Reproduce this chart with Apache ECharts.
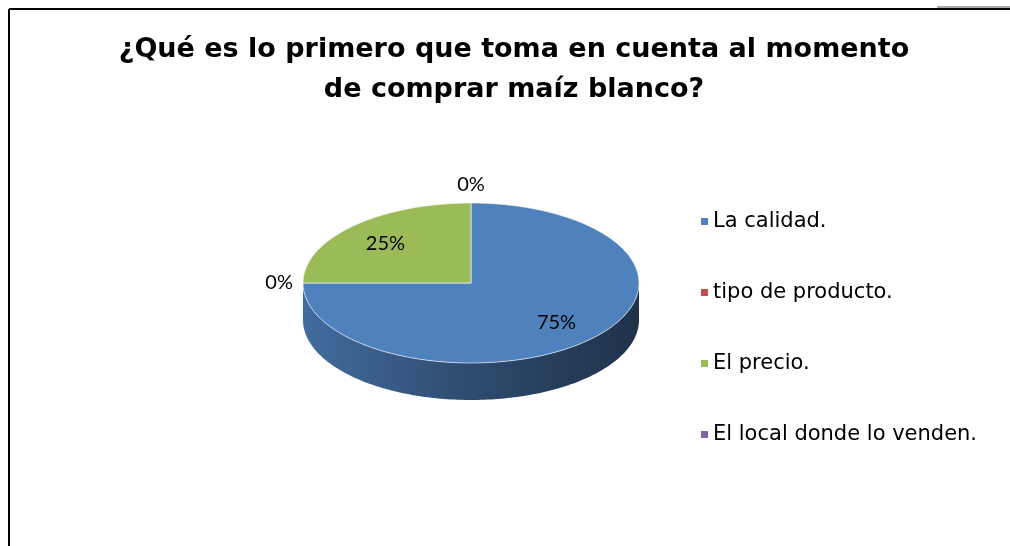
<!DOCTYPE html>
<html>
<head>
<meta charset="utf-8">
<script src="https://cdn.jsdelivr.net/npm/echarts@6/dist/echarts.min.js"></script>
<style>
  html, body { margin: 0; padding: 0; background: #fff; }
  #chart { width: 1010px; height: 546px; }
</style>
</head>
<body>
<div id="chart"></div>
<script>
const categories = ['La calidad.', 'tipo de producto.', 'El precio.', 'El local donde lo venden.'];
const percentages = [75, 0, 25, 0];
const sliceColors = ['#4f81bd', '#c0504d', '#9bbb59', '#8064a2'];

const chart = echarts.init(document.getElementById('chart'));
const total = percentages.reduce((a, b) => a + b, 0);

// 3D pie drawn as an ellipse (top face) plus its front wall
const cx = 471, cy = 283, rx = 168, ry = 80, depth = 37;

function pt (theta, dy) {
  // theta: clockwise from 12 o'clock
  return [cx + rx * Math.sin(theta), cy - ry * Math.cos(theta) + (dy || 0)];
}
function arc (a0, a1, dy) {
  const pts = [];
  const n = Math.max(2, Math.ceil(Math.abs(a1 - a0) / 0.02));
  for (let i = 0; i <= n; i++) pts.push(pt(a0 + (a1 - a0) * i / n, dy));
  return pts;
}
function shade (hex, f) {
  const n = parseInt(hex.slice(1), 16);
  const r = Math.round(((n >> 16) & 255) * f);
  const g = Math.round(((n >> 8) & 255) * f);
  const b = Math.round((n & 255) * f);
  return 'rgb(' + r + ',' + g + ',' + b + ')';
}

function renderSlice (params, api) {
  const i = params.dataIndex;
  let before = 0;
  for (let k = 0; k < i; k++) before += percentages[k];
  const v = api.value(0);
  const a0 = before / total * Math.PI * 2;
  const a1 = (before + v) / total * Math.PI * 2;
  const color = sliceColors[i];
  const children = [];
  if (v > 0) {
    const s0 = Math.max(a0, Math.PI / 2);
    const s1 = Math.min(a1, Math.PI * 1.5);
    if (s1 > s0) {
      children.push({
        type: 'polygon',
        shape: { points: arc(s0, s1, 0).concat(arc(s1, s0, depth)) },
        style: {
          fill: new echarts.graphic.LinearGradient(0, 0, 1, 0, [
            { offset: 0, color: shade(color, 0.84) },
            { offset: 0.5, color: shade(color, 0.58) },
            { offset: 1, color: shade(color, 0.39) }
          ])
        }
      });
    }
    children.push({
      type: 'polygon',
      shape: { points: [[cx, cy]].concat(arc(a0, a1, 0)) },
      style: { fill: color, stroke: 'rgba(255,255,255,0.6)', lineWidth: 1 }
    });
  }
  // data label
  const mid = (a0 + a1) / 2;
  const s = Math.sin(mid), c = Math.cos(mid);
  let lx, ly, align = 'center', valign = 'middle';
  if (v / total >= 0.1) {
    lx = cx + rx * 0.72 * s;
    ly = cy - ry * 0.7 * c;
  } else {
    const p = pt(mid, 0);
    lx = p[0] + 10 * s;
    ly = p[1] - 8 * c;
    if (s > 0.3) align = 'left';
    else if (s < -0.3) align = 'right';
    if (c > 0.3) valign = 'bottom';
    else if (c < -0.3) valign = 'top';
  }
  children.push({
    type: 'text',
    style: {
      text: v + '%',
      x: lx,
      y: ly,
      align: align,
      verticalAlign: valign,
      font: '20px Lato',
      fill: '#000'
    }
  });
  return { type: 'group', children: children };
}

chart.setOption({
  animation: false,
  title: {
    text: '¿Qué es lo primero que toma en cuenta al momento\nde comprar maíz blanco?',
    left: 514,
    top: 30,
    padding: 0,
    textAlign: 'center',
    textStyle: {
      fontFamily: 'DejaVu Sans',
      fontWeight: 'bold',
      fontSize: 27,
      lineHeight: 40,
      color: '#000'
    }
  },
  legend: {
    orient: 'vertical',
    left: 701,
    top: 211,
    padding: 0,
    data: categories,
    icon: 'rect',
    itemWidth: 7,
    itemHeight: 7,
    itemGap: 50,
    selectedMode: false,
    textStyle: {
      fontFamily: 'DejaVu Sans',
      fontSize: 21,
      lineHeight: 21,
      color: '#000'
    }
  },
  graphic: [
    { type: 'line', shape: { x1: 9, y1: 9, x2: 1010, y2: 9 }, style: { stroke: '#000', lineWidth: 2 } },
    { type: 'line', shape: { x1: 9, y1: 9, x2: 9, y2: 546 }, style: { stroke: '#000', lineWidth: 2 } },
    { type: 'line', shape: { x1: 937, y1: 7, x2: 1010, y2: 7 }, style: { stroke: '#555', lineWidth: 1 } }
  ],
  series: [
    {
      // only feeds the legend
      type: 'pie',
      radius: [0, 0],
      silent: true,
      label: { show: false },
      labelLine: { show: false },
      data: categories.map((name, i) => ({ name: name, value: percentages[i], itemStyle: { color: sliceColors[i] } }))
    },
    {
      type: 'custom',
      name: 'pie3d',
      coordinateSystem: 'none',
      renderItem: renderSlice,
      data: percentages.map(v => [v])
    }
  ]
});
</script>
</body>
</html>
